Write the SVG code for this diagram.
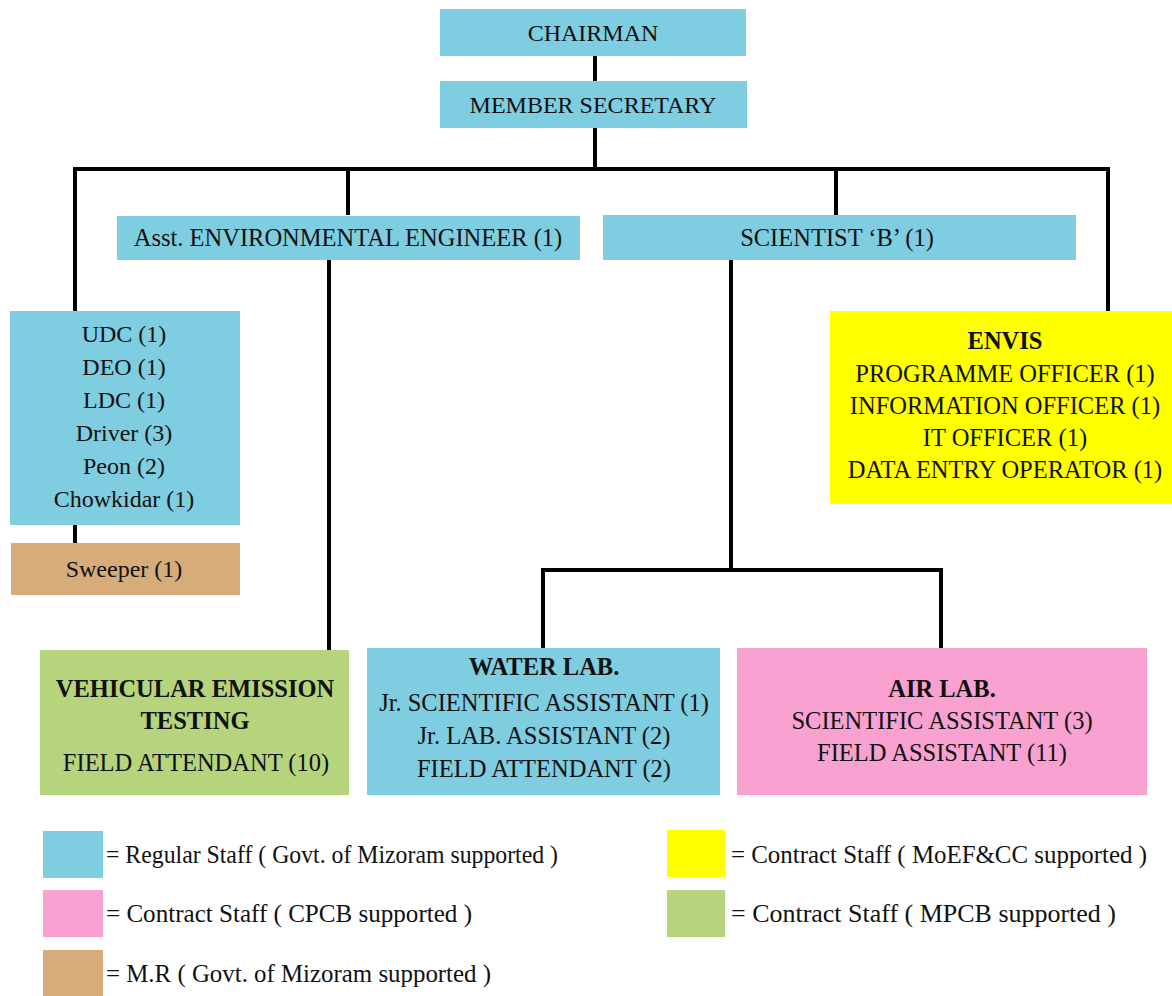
<svg xmlns="http://www.w3.org/2000/svg" width="1172" height="996" viewBox="0 0 1172 996">
<style>
.t{font-family:'Liberation Serif','DejaVu Serif',serif;font-size:24.5px;fill:#111;text-anchor:middle}
.s{font-size:24px}
.b{font-weight:bold}
.lg{font-family:'Liberation Serif','DejaVu Serif',serif;font-size:25px;fill:#111}
.blue{fill:#7ECDE0}.pink{fill:#F9A1D1}.yel{fill:#FFFF00}.grn{fill:#B5D47B}.tan{fill:#D8AB7B}
.c{fill:none;stroke:#000;stroke-width:4;stroke-linejoin:miter;stroke-linecap:butt}
</style>
<rect width="1172" height="996" fill="#fff"/>
<g id="connectors">
<path class="c" d="M595,56 V82"/>
<path class="c" d="M595,128 V169"/>
<path class="c" d="M75,312 V169 H1108 V312"/>
<path class="c" d="M348,169 V215"/>
<path class="c" d="M836,169 V215"/>
<path class="c" d="M329,260 V650"/>
<path class="c" d="M731,260 V570"/>
<path class="c" d="M543,648 V570 H941 V648"/>
<path class="c" d="M75,525 V544"/>
</g>
<g id="chairman"><rect class="blue" x="440" y="9" width="306" height="47"/><text class="t s" x="593" y="41">CHAIRMAN</text></g>
<g id="member-secretary"><rect class="blue" x="440" y="81" width="307" height="47"/><text class="t s" x="593" y="113">MEMBER SECRETARY</text></g>
<g id="asst-env-engineer"><rect class="blue" x="117" y="216" width="463" height="44"/><text class="t" x="348" y="246">Asst. ENVIRONMENTAL ENGINEER (1)</text></g>
<g id="scientist-b"><rect class="blue" x="603" y="215" width="473" height="45"/><text class="t" x="837" y="246">SCIENTIST ‘B’ (1)</text></g>
<g id="office-staff"><rect class="blue" x="10" y="311" width="230" height="214"/>
<text class="t s" x="124" y="342">UDC (1)</text>
<text class="t s" x="124" y="375">DEO (1)</text>
<text class="t s" x="124" y="408">LDC (1)</text>
<text class="t s" x="124" y="441">Driver (3)</text>
<text class="t s" x="124" y="474">Peon (2)</text>
<text class="t s" x="124" y="507">Chowkidar (1)</text>
</g>
<g id="sweeper"><rect class="tan" x="11" y="543" width="229" height="52"/><text class="t s" x="124" y="577">Sweeper (1)</text></g>
<g id="envis"><rect class="yel" x="830" y="311" width="342" height="193"/>
<text class="t b" x="1005" y="349">ENVIS</text>
<text class="t" x="1005" y="382">PROGRAMME OFFICER (1)</text>
<text class="t" x="1005" y="414">INFORMATION OFFICER (1)</text>
<text class="t" x="1005" y="446">IT OFFICER (1)</text>
<text class="t" x="1005" y="478">DATA ENTRY OPERATOR (1)</text>
</g>
<g id="vehicular-emission"><rect class="grn" x="40" y="650" width="309" height="145"/>
<text class="t b" x="195" y="697">VEHICULAR  EMISSION</text>
<text class="t b" x="195" y="729">TESTING</text>
<text class="t" x="196" y="771">FIELD ATTENDANT (10)</text>
</g>
<g id="water-lab"><rect class="blue" x="367" y="648" width="353" height="147"/>
<text class="t b" x="544" y="675">WATER LAB.</text>
<text class="t" x="544" y="711">Jr. SCIENTIFIC ASSISTANT (1)</text>
<text class="t" x="544" y="744">Jr. LAB. ASSISTANT (2)</text>
<text class="t" x="544" y="777">FIELD ATTENDANT (2)</text>
</g>
<g id="air-lab"><rect class="pink" x="737" y="648" width="410" height="147"/>
<text class="t b" x="942" y="697">AIR LAB.</text>
<text class="t" x="942" y="729">SCIENTIFIC ASSISTANT (3)</text>
<text class="t" x="942" y="761">FIELD ASSISTANT (11)</text>
</g>
<g id="legend">
<rect class="blue" x="43" y="831" width="60" height="47"/>
<text class="lg" x="106" y="863" textLength="452" lengthAdjust="spacingAndGlyphs">= Regular Staff ( Govt. of Mizoram supported )</text>
<rect class="pink" x="43" y="890" width="60" height="47"/>
<text class="lg" x="106" y="922" textLength="366" lengthAdjust="spacingAndGlyphs">= Contract Staff ( CPCB supported )</text>
<rect class="tan" x="43" y="950" width="60" height="46"/>
<text class="lg" x="106" y="982" textLength="385" lengthAdjust="spacingAndGlyphs">= M.R ( Govt. of Mizoram supported )</text>
<rect class="yel" x="667" y="830" width="58" height="47"/>
<text class="lg" x="731" y="863" textLength="416" lengthAdjust="spacingAndGlyphs">= Contract Staff ( MoEF&amp;CC supported )</text>
<rect class="grn" x="667" y="890" width="58" height="47"/>
<text class="lg" x="731" y="922" textLength="385" lengthAdjust="spacingAndGlyphs">= Contract Staff ( MPCB supported )</text>
</g>
</svg>
